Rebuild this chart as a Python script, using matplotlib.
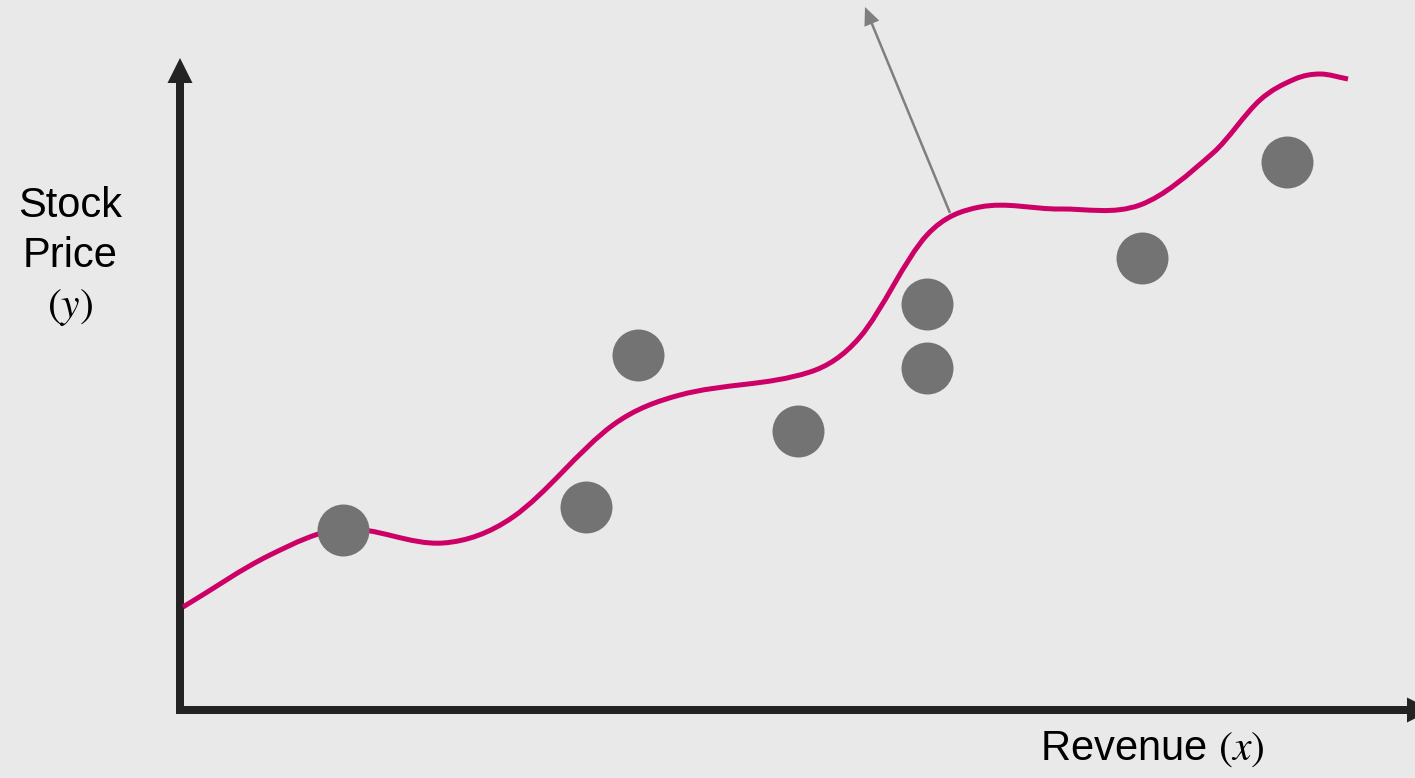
import matplotlib
matplotlib.use("Agg")
import matplotlib.pyplot as plt
from matplotlib.path import Path
from matplotlib.patches import PathPatch

plt.rcParams["font.family"] = ["Liberation Sans", "DejaVu Sans"]
plt.rcParams["mathtext.fontset"] = "stix"

# Observed (revenue, stock price) pairs
revenue = [1.63, 4.06, 4.58, 6.18, 7.47, 7.47, 9.62, 11.07]
price = [1.80, 2.03, 3.55, 2.79, 4.06, 3.42, 4.52, 5.48]

# Over-fitted model curve (knots of a smooth spline)
fit_x = [0.03, 0.90, 1.63, 2.63, 3.33, 4.33, 5.00, 6.30, 6.80, 7.47,
         8.00, 8.80, 9.60, 10.33, 10.80, 11.15, 11.40, 11.68]
fit_y = [1.03, 1.55, 1.81, 1.67, 1.93, 2.85, 3.15, 3.38, 3.73, 4.75,
         5.03, 5.01, 5.05, 5.57, 6.10, 6.31, 6.36, 6.31]

# Pointer from the curve
pointer_start = (7.70, 4.97)
pointer_end = (6.85, 7.03)


def smooth_path(xs, ys):
    """Cubic Hermite spline through the knots (as Bezier segments)."""
    n = len(xs)
    slopes = []
    for i in range(n):
        j0 = max(i - 1, 0)
        j1 = min(i + 1, n - 1)
        slopes.append((ys[j1] - ys[j0]) / (xs[j1] - xs[j0]))
    verts = [(xs[0], ys[0])]
    codes = [Path.MOVETO]
    for i in range(n - 1):
        dx = xs[i + 1] - xs[i]
        c1 = (xs[i] + dx / 3, ys[i] + slopes[i] * dx / 3)
        c2 = (xs[i + 1] - dx / 3, ys[i + 1] - slopes[i + 1] * dx / 3)
        verts += [c1, c2, (xs[i + 1], ys[i + 1])]
        codes += [Path.CURVE4] * 3
    return Path(verts, codes)


bg = "#e9e9e9"
fig = plt.figure(figsize=(14.15, 7.78), dpi=100, facecolor=bg)
ax = fig.add_axes([0, 0, 1, 1], facecolor=bg)
ax.set_xlim(-1.80, 12.35)
ax.set_ylim(-0.68, 7.10)
ax.axis("off")

axis_color = "#232323"
# y axis arrow
ax.arrow(0, -0.04, 0, 6.56, width=0.08, head_width=0.25, head_length=0.25,
         length_includes_head=True, color=axis_color, linewidth=0, zorder=2)
# x axis arrow
ax.arrow(-0.04, 0, 12.56, 0, width=0.08, head_width=0.25, head_length=0.25,
         length_includes_head=True, color=axis_color, linewidth=0, zorder=2)

ax.add_patch(PathPatch(smooth_path(fit_x, fit_y), facecolor="none",
                       edgecolor="#cc0066", linewidth=3.6,
                       joinstyle="round", capstyle="butt", zorder=3))

ax.scatter(revenue, price, s=1400, color="#737373", linewidths=0, zorder=4)

ax.arrow(pointer_start[0], pointer_start[1],
         pointer_end[0] - pointer_start[0], pointer_end[1] - pointer_start[1],
         width=0.025, head_width=0.16, head_length=0.18,
         length_includes_head=True, color="#7f7f7f", linewidth=0, zorder=2)

fs = 30
ax.text(-1.10, 4.93, "Stock", fontsize=fs, ha="center", va="baseline", color="black")
ax.text(-1.10, 4.43, "Price", fontsize=fs, ha="center", va="baseline", color="black")
ax.text(-1.10, 3.93, r"$(y)$", fontsize=fs, ha="center", va="baseline", color="black")
ax.text(9.72, -0.50, r"Revenue $(x)$", fontsize=fs, ha="center", va="baseline", color="black")

fig.savefig("out.png", dpi=100, facecolor=bg)
